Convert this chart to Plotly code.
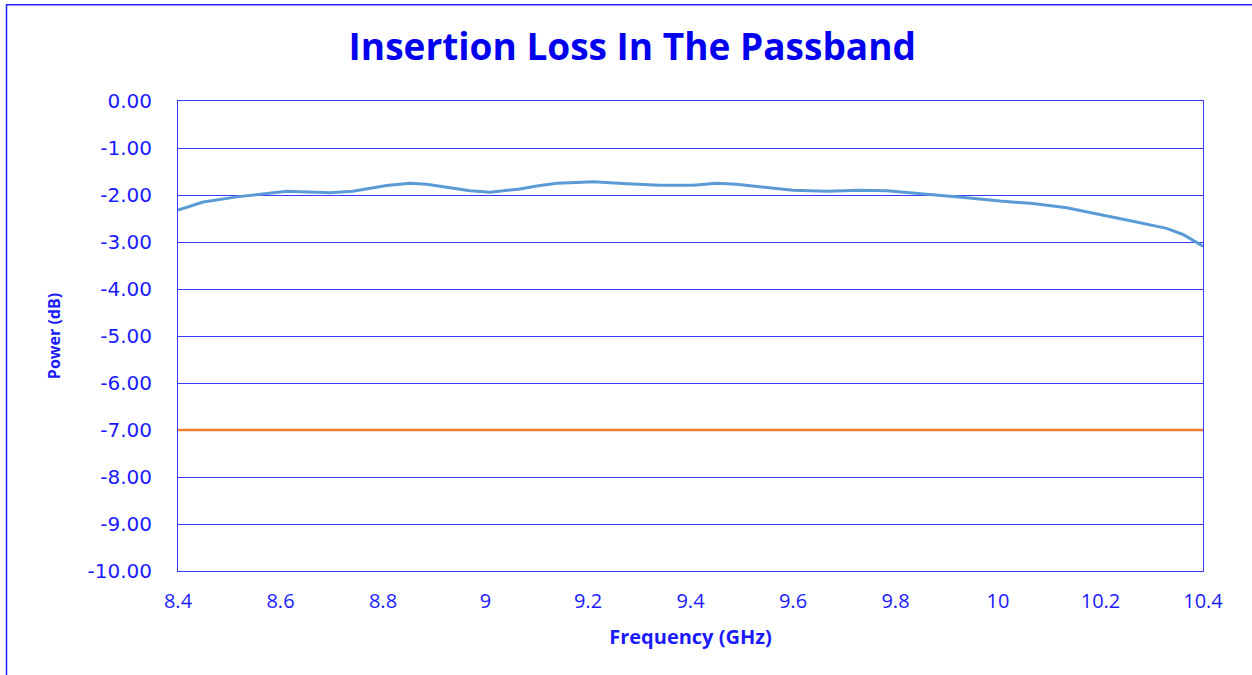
import plotly.graph_objects as go

freq_ghz = [8.400, 8.449, 8.515, 8.580, 8.612, 8.697, 8.741, 8.807, 8.853, 8.885,
            8.937, 8.970, 9.009, 9.067, 9.100, 9.139, 9.165, 9.210, 9.276, 9.340,
            9.405, 9.451, 9.490, 9.536, 9.600, 9.666, 9.731, 9.783, 9.828, 9.861,
            9.893, 9.939, 10.004, 10.068, 10.134, 10.204, 10.263, 10.329, 10.361, 10.400]
loss_db = [-2.32, -2.15, -2.04, -1.95, -1.92, -1.95, -1.92, -1.80, -1.75, -1.77,
           -1.85, -1.91, -1.94, -1.87, -1.81, -1.75, -1.74, -1.72, -1.76, -1.79,
           -1.79, -1.75, -1.77, -1.83, -1.90, -1.92, -1.90, -1.91, -1.95, -1.98,
           -2.02, -2.06, -2.13, -2.18, -2.27, -2.42, -2.56, -2.71, -2.84, -3.09]

# Specification limit
limit_freq = [8.4, 10.4]
limit_db = [-7.0, -7.0]

y_tick_vals = [0, -1, -2, -3, -4, -5, -6, -7, -8, -9, -10]
y_tick_text = ["0.00", "-1.00", "-2.00", "-3.00", "-4.00", "-5.00", "-6.00",
               "-7.00", "-8.00", "-9.00", "-10.00"]
x_tick_vals = [8.4, 8.6, 8.8, 9.0, 9.2, 9.4, 9.6, 9.8, 10.0, 10.2, 10.4]
x_tick_text = ["8.4", "8.6", "8.8", "9", "9.2", "9.4", "9.6", "9.8", "10", "10.2", "10.4"]

BLUE = "#1a1aff"
GRID = "#3a3aff"

fig = go.Figure()
fig.add_trace(go.Scatter(x=freq_ghz, y=loss_db, mode="lines",
                         line=dict(color="#5B9BD5", width=3), showlegend=False))
fig.add_trace(go.Scatter(x=limit_freq, y=limit_db, mode="lines",
                         line=dict(color="#ED7D31", width=2.5), showlegend=False))

fig.update_layout(
    width=1252, height=675,
    margin=dict(l=178, r=49, t=101, b=104),
    paper_bgcolor="white", plot_bgcolor="white",
    title=dict(text="<b>Insertion Loss In The Passband</b>", x=0.505, xanchor="center",
               y=0.93, yanchor="middle",
               font=dict(family="Open Sans", size=37, color="#0000ee")),
    xaxis=dict(range=[8.4, 10.4], tickvals=x_tick_vals, ticktext=x_tick_text,
               showgrid=False, zeroline=False, showline=True, linecolor=GRID, linewidth=1,
               mirror=True, ticks="", ticklabelstandoff=12,
               tickfont=dict(family="Open Sans", size=20, color=BLUE),
               title=dict(text="<b>Frequency (GHz)</b>", standoff=16,
                          font=dict(family="Open Sans", size=20, color=BLUE))),
    yaxis=dict(range=[-10, 0], tickvals=y_tick_vals, ticktext=y_tick_text,
               showgrid=True, gridcolor=GRID, gridwidth=1, zeroline=False,
               showline=True, linecolor=GRID, linewidth=1, mirror=True, ticks="",
               ticklabelstandoff=21,
               tickfont=dict(family="DejaVu Sans", size=20, color=BLUE),
               title=dict(text="<b>Power (dB)</b>", standoff=22,
                          font=dict(family="Open Sans", size=16, color=BLUE))),
    shapes=[dict(type="rect", xref="paper", yref="paper",
                 x0=(6.5 - 178) / 1025, x1=1.1, y0=-0.3, y1=(571 - 5.5) / 469.3,
                 line=dict(color="#2020ff", width=1.5), fillcolor="rgba(0,0,0,0)",
                 layer="below")],
)

fig.write_html("out.html", config={"displayModeBar": False},
               post_script="document.body.style.margin='0';")
